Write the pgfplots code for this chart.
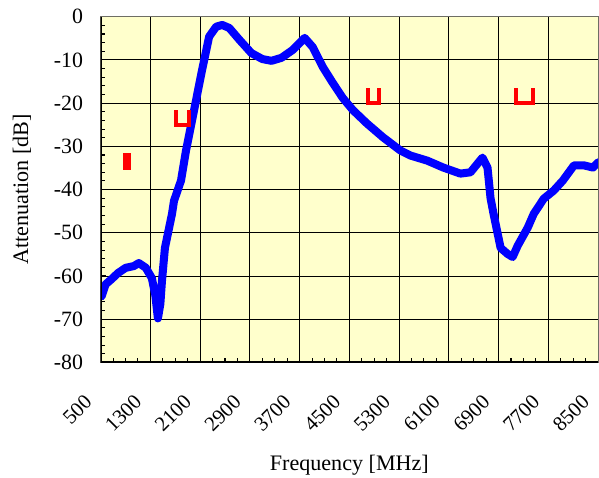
\documentclass[border=0pt]{standalone}
\usepackage{fontspec}
\setmainfont{Liberation Serif}
\usepackage{pgfplots}
\pgfplotsset{compat=1.18}
\definecolor{bgyellow}{RGB}{255,255,204}
\definecolor{gridgray}{RGB}{110,110,100}
\begin{document}
\begin{tikzpicture}
\begin{axis}[
  scale only axis,
  width=371.25pt, height=258pt,
  xmin=500, xmax=8500, ymin=-80, ymax=0,
  xtick={500,1300,...,8500},
  ytick={-80,-70,...,0},
  minor x tick num=3, minor y tick num=4,
  tick align=inside, xtick pos=bottom, ytick pos=left,
  major tick length=4pt, minor tick length=3pt,
  tick style={black, line width=0.8pt},
  grid=major,
  major grid style={black, line width=0.7pt},
  axis background/.style={fill=bgyellow},
  axis line style={gridgray, line width=0.8pt},
  scaled x ticks=false,
  xticklabel={\smash{\pgfmathprintnumber{\tick}\hspace*{8.5pt}}},
  xticklabel shift=24pt,
  xticklabel style={rotate=45, anchor=north east, inner sep=0pt, font=\fontsize{15.5}{18}\selectfont},
  yticklabel style={anchor=east, inner xsep=0pt, inner ysep=7pt, xshift=-13pt, font=\fontsize{16.3}{19}\selectfont},
  /pgf/number format/.cd, 1000 sep={}, assume math mode=true,
  /pgfplots/.cd,
  label style={font=\fontsize{16.5}{19}\selectfont},
  xlabel={Frequency [MHz]},
  ylabel={Attenuation [dB]},
  xlabel style={at={([yshift=-76.5pt]axis description cs:0.5,0)}, anchor=center, inner xsep=0pt, inner ysep=2pt},
  ylabel style={at={([xshift=-42.25pt]axis description cs:0,0.5)}, anchor=south, inner xsep=0pt, inner ysep=9.5pt},
]
\addplot[blue, line width=6pt, line join=round, line cap=round] coordinates {
(516,-64.7) (581,-61.9) (678,-60.7) (780,-59.3) (904,-58.1) (1033,-57.7) (1114,-57.0)
(1227,-58.1) (1324,-60.5) (1380,-64.5) (1421,-69.8) (1460,-66.5) (1486,-61.2) (1534,-53.5)
(1648,-45.6) (1680,-42.6) (1793,-37.9) (1874,-30.9) (2003,-21.6) (2132,-12.3)
(2245,-4.6) (2359,-2.3) (2456,-1.9) (2569,-2.6) (2730,-5.3) (2924,-8.4) (3102,-9.8)
(3248,-10.2) (3409,-9.5) (3587,-7.7) (3781,-4.9) (3910,-7.0) (4072,-11.6) (4233,-15.3)
(4395,-18.8) (4557,-21.6) (4783,-24.7) (5042,-27.9) (5316,-30.9) (5478,-32.1)
(5753,-33.3) (6011,-34.9) (6286,-36.3) (6448,-36.0) (6561,-34.0) (6641,-32.6)
(6722,-34.9) (6771,-42.0) (6819,-45.6) (6933,-53.5) (7046,-54.9) (7126,-55.6)
(7207,-53.0) (7369,-48.8) (7466,-45.6) (7627,-42.1) (7789,-40.2) (7934,-37.9)
(8112,-34.4) (8274,-34.4) (8419,-34.9) (8500,-33.7)
};
\addplot[red, line width=3.5pt] coordinates {(895,-31.6) (895,-35.0) (955,-35.0) (955,-31.6)};
\addplot[red, line width=3pt] coordinates {(1712,-21.6) (1712,-25.1) (1922,-25.1) (1922,-21.6)};
\addplot[red, line width=3pt] coordinates {(4799,-16.5) (4799,-20.0) (4977,-20.0) (4977,-16.5)};
\addplot[red, line width=3pt] coordinates {(7175,-16.5) (7175,-20.0) (7450,-20.0) (7450,-16.5)};
\draw[black, line width=1.6pt] (rel axis cs:0,1) -- (rel axis cs:0,0) -- (rel axis cs:1,0);
\end{axis}
\end{tikzpicture}
\end{document}
